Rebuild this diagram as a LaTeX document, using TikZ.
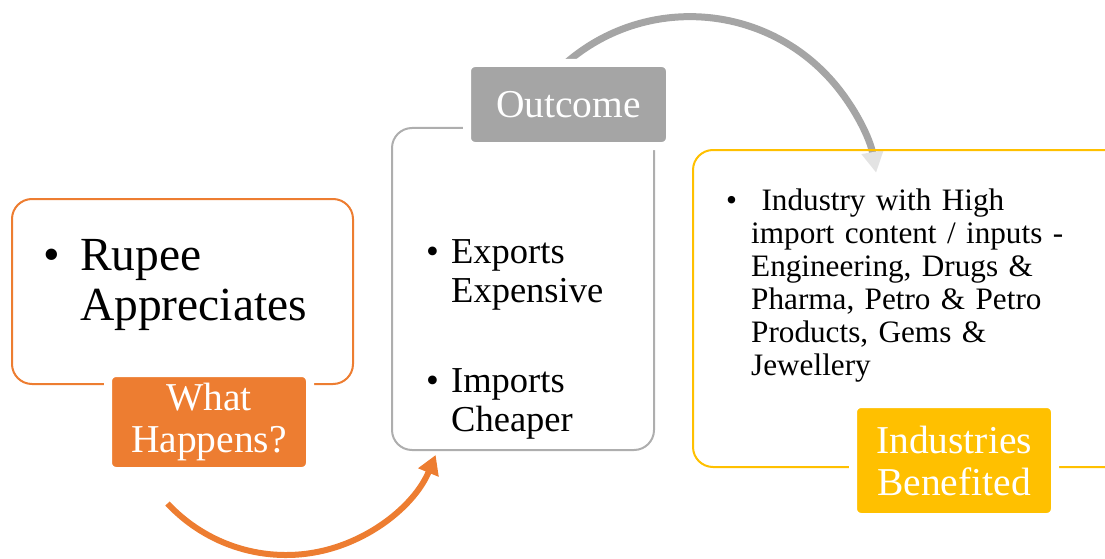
\documentclass[tikz,border=0pt]{standalone}
\usepackage{fontspec}
\setmainfont{Liberation Serif}
\usetikzlibrary{arrows.meta, positioning}
\definecolor{accorange}{HTML}{ED7D31}
\definecolor{accgray}{HTML}{A5A5A5}
\definecolor{accgold}{HTML}{FFC000}

\begin{document}
\begin{tikzpicture}[x=1pt, y=-1pt,
    box/.style={rectangle, rounded corners=20, line width=2, inner sep=0},
    orangebox/.style={box, draw=accorange},
    graybox/.style={box, draw=accgray!90},
    goldbox/.style={box, draw=accgold},
    tagbox/.style={rectangle, rounded corners=8, draw=white, line width=8, text=white, align=center, inner sep=0, font=\fontsize{39.5}{42}\selectfont},
    bodytext/.style={inner sep=0, align=left, anchor=base west},
    arrow/.style={line width=6}
]
\useasboundingbox (0,0) rectangle (1105,559);

% Arrows (behind the boxes)
\coordinate (wstart) at (167.5,503.5);
\coordinate (ostart) at (566,63);
\draw[arrow, accorange, -{Triangle[length=19pt, width=21pt]}] (wstart) arc[start angle=137, end angle=22.5, radius=162];
\draw[arrow, accgray, line width=7, -{Triangle[length=21pt, width=21pt, color=black!11]}] (ostart) arc[start angle=-131, end angle=-10, radius=189];

% Boxes
\node[orangebox, minimum width=341, minimum height=185] (appr) at (182.5,291.5) {};
\node[graybox, minimum width=262, minimum height=322] (outc) at (523,289) {};
\node[goldbox, minimum width=432, minimum height=317] (ind) at (909,308.5) {};

% Tags
\node[tagbox, fill=accorange, minimum width=202, minimum height=98] (what) at (209,422) {What\\Happens?};
\node[tagbox, fill=accgray, minimum width=203, minimum height=83] (outtag) at (568.5,104.5) {Outcome};
\node[tagbox, fill=accgold, minimum width=202, minimum height=113] (indtag) at (954,460.5) {Industries\\Benefited};

% Box texts
\node[bodytext, text width=300, font=\fontsize{47.5}{50}\selectfont] (rupee) at (43,270) {
    \makebox[37pt][l]{\textbullet}Rupee\\
    \hspace*{37pt}Appreciates
};
\node[bodytext, text width=200, font=\fontsize{36.5}{39}\selectfont] (exp) at (426,263) {
    \makebox[25pt][l]{\textbullet}Exports\\
    \hspace*{25pt}Expensive
};
\node[bodytext, text width=200, font=\fontsize{36.5}{39}\selectfont] (imp) at (426,392) {
    \makebox[25pt][l]{\textbullet}Imports\\
    \hspace*{25pt}Cheaper
};
\node[bodytext, text width=360, font=\fontsize{31.2}{33}\selectfont] (high) at (726,210) {
    \makebox[25pt][l]{\textbullet} Industry with High\\
    \hspace*{25pt}import content / inputs -\\
    \hspace*{25pt}Engineering, Drugs \&\\
    \hspace*{25pt}Pharma, Petro \& Petro\\
    \hspace*{25pt}Products, Gems \&\\
    \hspace*{25pt}Jewellery
};

\end{tikzpicture}
\end{document}
